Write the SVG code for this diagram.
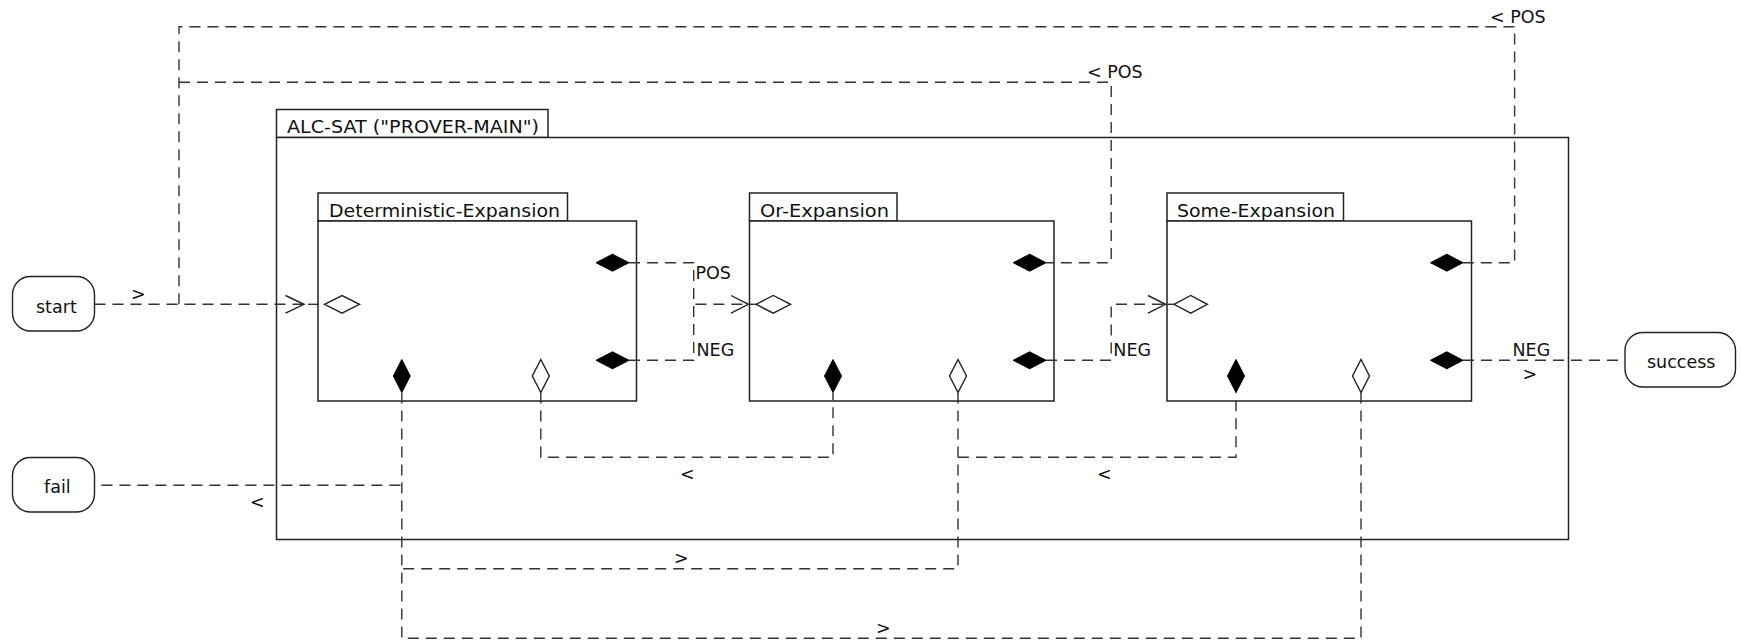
<svg xmlns="http://www.w3.org/2000/svg" width="1741" height="642" viewBox="0 0 1741 642">
<style>
text{font-family:"DejaVu Sans","Liberation Sans",sans-serif;font-size:17.5px;fill:#111}
.box{fill:#fff;stroke:#222;stroke-width:1.5}
.term{fill:#fff;stroke:#222;stroke-width:1.4}
.c{fill:none;stroke:#333;stroke-width:1.4;stroke-dasharray:11 7}
.arr{fill:none;stroke:#222;stroke-width:1.4}
.fd{fill:#000;stroke:#000;stroke-width:1}
.hd{fill:#fff;stroke:#222;stroke-width:1.4}
</style>
<rect width="1741" height="642" fill="#fff"/>
<g id="alc-sat">
<rect class="box" x="276.5" y="109.5" width="271.5" height="28"/>
<rect class="box" x="276.5" y="137.5" width="1292" height="402"/>
<text x="287" y="133" textLength="252" lengthAdjust="spacingAndGlyphs">ALC-SAT ("PROVER-MAIN")</text>
</g>
<g id="deterministic-expansion">
<rect class="box" x="318" y="193" width="249.5" height="28"/>
<rect class="box" x="318" y="221" width="318.5" height="180"/>
<text x="329" y="216.5" textLength="231" lengthAdjust="spacingAndGlyphs">Deterministic-Expansion</text>
<polygon class="hd" points="324.5,304.3 342,295.5 359.5,304.3 342,313.1"/>
<polygon class="fd" points="596,262.7 612.5,254.2 629,262.7 612.5,271.2"/>
<polygon class="fd" points="596,360.3 612.5,351.8 629,360.3 612.5,368.8"/>
<polygon class="fd" points="401.8,359.5 410.3,376 401.8,392.5 393.3,376"/>
<polygon class="hd" points="540.8,359.5 549.3,376 540.8,392.5 532.3,376"/>
</g>
<g id="or-expansion">
<rect class="box" x="749.5" y="193" width="147.5" height="28"/>
<rect class="box" x="749.5" y="221" width="304.5" height="180"/>
<text x="760" y="216.5" textLength="129" lengthAdjust="spacingAndGlyphs">Or-Expansion</text>
<polygon class="hd" points="756,304.3 773.3,295.5 790.5,304.3 773.3,313.1"/>
<polygon class="fd" points="1013.2,262.7 1029.6,254.2 1046,262.7 1029.6,271.2"/>
<polygon class="fd" points="1013.2,360.3 1029.6,351.8 1046,360.3 1029.6,368.8"/>
<polygon class="fd" points="833,359.5 841.5,376 833,392.5 824.5,376"/>
<polygon class="hd" points="958,359.5 966.5,376 958,392.5 949.5,376"/>
</g>
<g id="some-expansion">
<rect class="box" x="1167" y="193" width="176.5" height="28"/>
<rect class="box" x="1167" y="221" width="304.5" height="180"/>
<text x="1177" y="216.5" textLength="158" lengthAdjust="spacingAndGlyphs">Some-Expansion</text>
<polygon class="hd" points="1174,304.3 1190.7,295.5 1207.4,304.3 1190.7,313.1"/>
<polygon class="fd" points="1430.5,262.7 1446.8,254.2 1463,262.7 1446.8,271.2"/>
<polygon class="fd" points="1430.5,360.3 1446.8,351.8 1463,360.3 1446.8,368.8"/>
<polygon class="fd" points="1236,359.5 1244.5,376 1236,392.5 1227.5,376"/>
<polygon class="hd" points="1361,359.5 1369.5,376 1361,392.5 1352.5,376"/>
</g>
<g id="start">
<rect class="term" x="12.5" y="276.5" width="82" height="54.5" rx="18" ry="18"/>
<text x="36" y="313.3">start</text>
</g>
<g id="fail">
<rect class="term" x="12.5" y="457.5" width="82" height="54.5" rx="18" ry="18"/>
<text x="44" y="493">fail</text>
</g>
<g id="success">
<rect class="term" x="1625" y="332.5" width="110.5" height="54.5" rx="18" ry="18"/>
<text x="1647" y="368.3">success</text>
</g>
<g id="connectors">
<path class="c" d="M94.5,304.3 H304"/>
<polyline class="arr" points="285.5,295.5 304,304.3 285.5,313.1"/>
<path class="c" d="M308,304.3 H324.5"/>
<path class="c" d="M179,304.3 V26.7 H1514.6 V262.7 H1463"/>
<path class="c" d="M179,82.3 H1111.2 V262.7 H1046"/>
<path class="c" d="M629,262.7 H693.7 V304.3 H748.4"/>
<polyline class="arr" points="731,295.5 748.4,304.3 731,313.1"/>
<path class="c" d="M750,304.3 H756"/>
<path class="c" d="M629,360.3 H693.7 V304.3"/>
<path class="c" d="M1046,360.3 H1111.2 V304.3 H1165.5"/>
<polyline class="arr" points="1148,295.5 1165.5,304.3 1148,313.1"/>
<path class="c" d="M1167,304.3 H1174"/>
<path class="c" d="M1463,360.3 H1625"/>
<path class="c" d="M101.4,485.3 H401.8"/>
<path class="c" d="M401.8,392.5 V638.3"/>
<path class="c" d="M540.8,392.5 V457.3 H833 V392.5"/>
<path class="c" d="M958,392.5 V568.7 H401.8"/>
<path class="c" d="M958,457.3 H1236 V392.5"/>
<path class="c" d="M1361,392.5 V638.3 H401.8"/>
<text x="131" y="300">&gt;</text>
<text x="1490" y="22.7">&lt; POS</text>
<text x="1087" y="78.3">&lt; POS</text>
<text x="695.5" y="279.3">POS</text>
<text x="696.5" y="356">NEG</text>
<text x="1113.3" y="356">NEG</text>
<text x="1512.5" y="355.7">NEG</text>
<text x="1522.5" y="380">&gt;</text>
<text x="250" y="508">&lt;</text>
<text x="680" y="479.5">&lt;</text>
<text x="1097" y="479.5">&lt;</text>
<text x="674" y="564">&gt;</text>
<text x="876" y="634">&gt;</text>
</g>
</svg>
